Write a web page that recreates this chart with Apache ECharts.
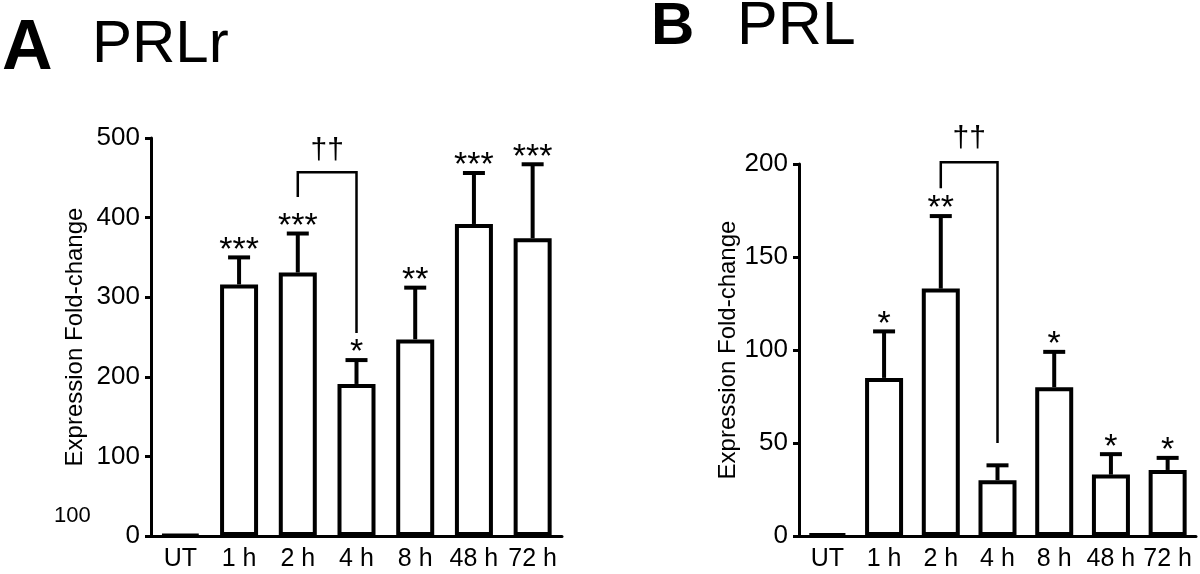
<!DOCTYPE html>
<html>
<head>
<meta charset="utf-8">
<script src="https://cdn.jsdelivr.net/npm/echarts@6/dist/echarts.min.js"></script>
<style>
html,body{margin:0;padding:0;background:#fff;}
#chart{width:1200px;height:574px;}
</style>
</head>
<body>
<div id="chart"></div>
<script>
// ---- data ----
var categories = ['UT', '1 h', '2 h', '4 h', '8 h', '48 h', '72 h'];
var prlrMean = [1.5, 316, 331, 191, 247, 392, 374];
var prlrErr  = [0, 34, 49, 30, 65, 64, 93];
var prlrSig  = ['', '***', '***', '*', '**', '***', '***'];
var prlMean  = [1, 85, 133, 30, 80, 33, 35.5];
var prlErr   = [0, 25, 39, 8, 19, 11, 6.5];
var prlSig   = ['', '*', '**', '', '*', '*', '*'];
var prlrTicks = [0, 100, 200, 300, 400, 500];
var prlTicks  = [0, 50, 100, 150, 200];
// bracket: [fromIndex, toIndex, topValue, leftLegBottom, rightLegBottom]
var prlrBracket = [[2, 3, 457, 426, 255]];
var prlBracket  = [[2, 3, 201, 187, 50]];
var bracketLabel = '††';

var FONT = 'Liberation Sans, Arial, sans-serif';
var chart = echarts.init(document.getElementById('chart'));

function errSeries(idx, means, errs, sigs) {
  return {
    type: 'custom', xAxisIndex: idx, yAxisIndex: idx, clip: false, z: 5,
    data: means.map(function (v, i) { return [i, v, errs[i]]; }),
    renderItem: function (params, api) {
      var i = params.dataIndex;
      var cat = api.value(0), v = api.value(1), e = api.value(2);
      var p0 = api.coord([cat, v]);
      var p1 = api.coord([cat, v + e]);
      var children = [];
      if (e > 0) {
        children.push({ type: 'line', shape: { x1: p0[0], y1: p0[1], x2: p1[0], y2: p1[1] },
          style: { stroke: '#000', lineWidth: 4 } });
        children.push({ type: 'line', shape: { x1: p1[0] - 11, y1: p1[1], x2: p1[0] + 11, y2: p1[1] },
          style: { stroke: '#000', lineWidth: 4 } });
      }
      if (sigs[i]) {
        children.push({ type: 'text', x: p1[0], y: p1[1] + 10,
          style: { text: sigs[i], font: '34px ' + FONT, fill: '#000',
            textAlign: 'center', textVerticalAlign: 'bottom' } });
      }
      return { type: 'group', children: children };
    }
  };
}

function bracketSeries(idx, br, labelGap) {
  return {
    type: 'custom', xAxisIndex: idx, yAxisIndex: idx, clip: false, z: 5,
    encode: { x: 0, y: 2 },
    data: br,
    renderItem: function (params, api) {
      var a = api.value(0), b = api.value(1), top = api.value(2), lb = api.value(3), rb = api.value(4);
      var p1 = api.coord([a, lb]), p2 = api.coord([a, top]), p3 = api.coord([b, top]), p4 = api.coord([b, rb]);
      return { type: 'group', children: [
        { type: 'polyline', shape: { points: [p1, p2, p3, p4] },
          style: { stroke: '#000', lineWidth: 2.5, fill: null } },
        { type: 'text', x: (p2[0] + p3[0]) / 2, y: p2[1] - labelGap,
          style: { text: bracketLabel, font: '30px ' + FONT, fill: '#000',
            textAlign: 'center', textVerticalAlign: 'middle' } }
      ] };
    }
  };
}

function yAxis(idx, max, interval, gap) {
  return {
    gridIndex: idx, type: 'value', min: 0, max: max, interval: interval,
    name: 'Expression Fold-change', nameLocation: 'middle', nameGap: gap,
    nameTextStyle: { fontSize: 24, fontFamily: FONT, color: '#000' },
    axisLine: { show: true, lineStyle: { color: '#000', width: 3 } },
    axisTick: { show: true, length: 6, lineStyle: { color: '#000', width: 3 } },
    axisLabel: { fontSize: 26, fontFamily: FONT, color: '#000', margin: 11 },
    splitLine: { show: false }
  };
}
function xAxis(idx) {
  return {
    gridIndex: idx, type: 'category', data: categories,
    axisLine: { lineStyle: { color: '#000', width: 3 } },
    axisTick: { alignWithLabel: true, length: 5, lineStyle: { color: '#000', width: 3 } },
    axisLabel: { fontSize: 25, fontFamily: FONT, color: '#000', margin: 11, interval: 0 }
  };
}
function barSeries(idx, means) {
  return {
    type: 'bar', xAxisIndex: idx, yAxisIndex: idx, data: means, barWidth: 38,
    itemStyle: { color: '#fff', borderColor: '#000', borderWidth: 4 }, z: 3
  };
}

chart.setOption({
  animation: false,
  backgroundColor: '#fff',
  grid: [
    { left: 151, top: 138, width: 411, height: 398 },
    { left: 799, top: 164, width: 397, height: 372 }
  ],
  xAxis: [xAxis(0), xAxis(1)],
  yAxis: [yAxis(0, 500, 100, 64), yAxis(1, 200, 50, 55)],
  series: [
    barSeries(0, prlrMean), errSeries(0, prlrMean, prlrErr, prlrSig), bracketSeries(0, prlrBracket, 21),
    barSeries(1, prlMean), errSeries(1, prlMean, prlErr, prlSig), bracketSeries(1, prlBracket, 23)
  ],
  graphic: [
    { type: 'text', left: 2, top: 15, style: { text: 'A', font: 'bold 70px ' + FONT, fill: '#000' } },
    { type: 'text', left: 92, top: 15, style: { text: 'PRLr', font: '60px ' + FONT, fill: '#000' } },
    { type: 'text', left: 651, top: -3, style: { text: 'B', font: 'bold 60px ' + FONT, fill: '#000' } },
    { type: 'text', left: 737, top: -3, style: { text: 'PRL', font: '61px ' + FONT, fill: '#000' } },
    { type: 'text', left: 54, top: 505, style: { text: '100', font: '22px ' + FONT, fill: '#000' } }
  ]
});
</script>
</body>
</html>
